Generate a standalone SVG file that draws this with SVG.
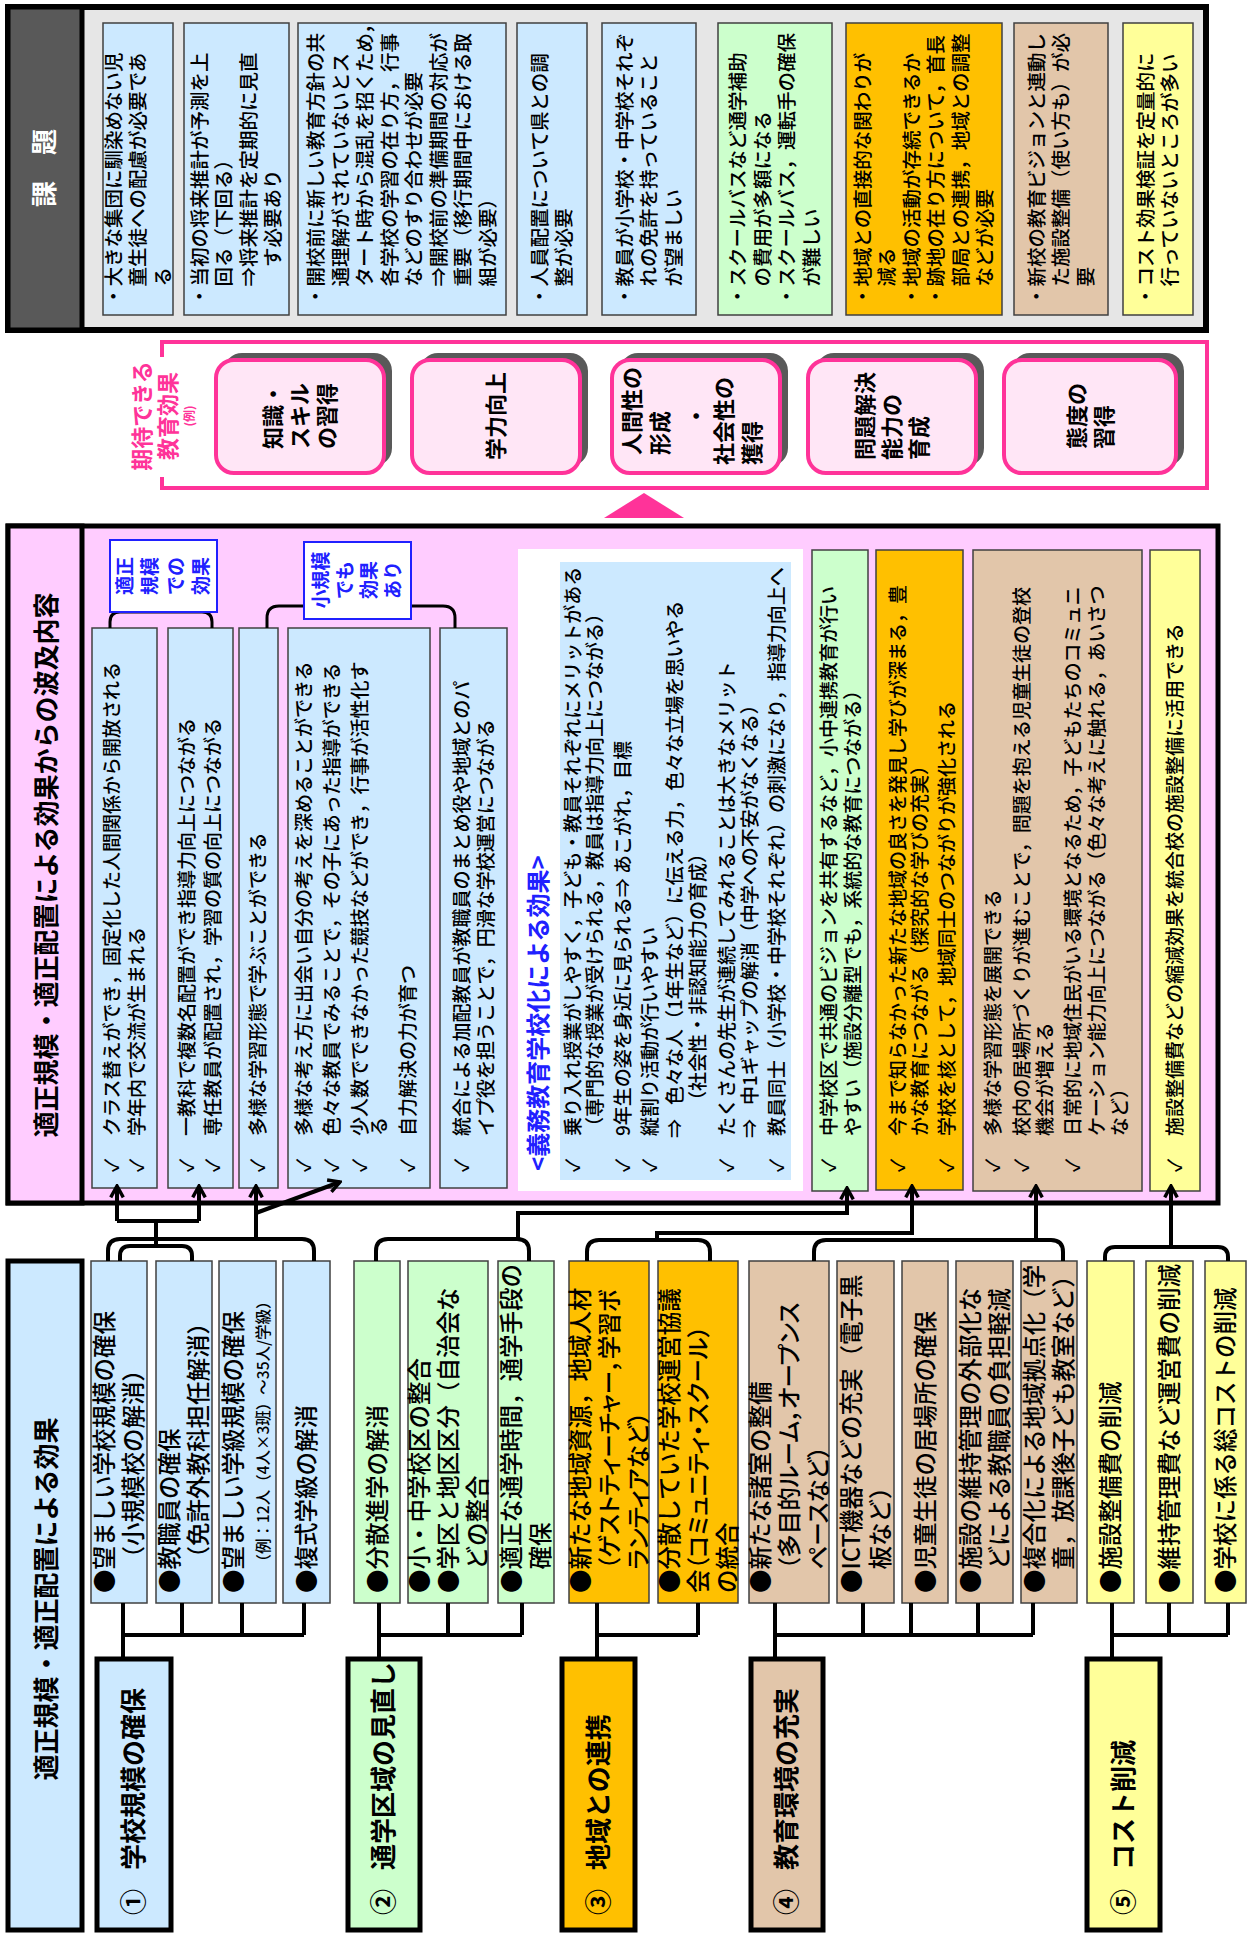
<svg xmlns="http://www.w3.org/2000/svg" width="1248" height="1934" viewBox="0 0 1248 1934">
<defs>
<style>
.t{font-family:"Noto Sans CJK JP","Noto Sans","DejaVu Sans",sans-serif;fill:#000;font-weight:500}
.a{font-size:19.5px}
.h{font-size:19px}
.c{font-size:23.5px}
.g{font-size:26px;font-weight:bold}
.b{font-weight:bold}
.box{stroke:#404040;stroke-width:1.5}
.blue{fill:#cce9ff}.green{fill:#ccffcc}.orange{fill:#ffc000}.tan{fill:#e2c6aa}.yellow{fill:#ffff99}
.grp{stroke:#000;stroke-width:5}
.ln{fill:none;stroke:#000;stroke-width:4}
.ar{marker-end:url(#arr)}
.pk{fill:#ffe6f6;stroke:#ff3399;stroke-width:4}
.sh{fill:#595959}
.bl{fill:#2020ff}
.palt{font-feature-settings:"palt" 1}
</style>
<marker id="arr" viewBox="0 0 14 14" refX="12" refY="7" markerWidth="16" markerHeight="16" markerUnits="userSpaceOnUse" orient="auto"><path d="M2,1.5 L12,7 L2,12.5" fill="none" stroke="#000" stroke-width="3"/></marker>
</defs>
<rect width="1248" height="1934" fill="#fff"/>

<!-- 課題 section -->
<g id="kadai">
<rect x="8" y="7" width="1198" height="323" fill="#e6e6e6" stroke="#000" stroke-width="6"/>
<rect x="8" y="7" width="74" height="323" fill="#595959" stroke="#000" stroke-width="5"/>
<text class="t g" style="fill:#fff" text-anchor="middle" transform="translate(54.4,168) rotate(-90)">課　題</text>
</g>
<g id="kadai1"><rect class="box blue" x="103" y="23" width="70" height="292"/>
<text class="t a" transform="translate(120.5,306) rotate(-90)"><tspan x="0" y="0">・大きな集団に馴染めない児</tspan><tspan x="19.5" y="24.5">童生徒への配慮が必要であ</tspan><tspan x="19.5" y="49">る</tspan></text></g>
<g id="kadai2"><rect class="box blue" x="184" y="23" width="105" height="292"/>
<text class="t a" transform="translate(206.75,306) rotate(-90)"><tspan x="0" y="0">・当初の将来推計が予測を上</tspan><tspan x="19.5" y="24.5">回る（下回る）</tspan><tspan x="19.5" y="49">⇒</tspan><tspan x="39" y="49">将来推計を定期的に見直</tspan><tspan x="39" y="73.5">す必要あり</tspan></text></g>
<g id="kadai3"><rect class="box blue" x="298" y="23" width="208" height="292"/>
<text class="t a" transform="translate(323.25,306) rotate(-90)"><tspan x="0" y="0">・開校前に新しい教育方針の共</tspan><tspan x="19.5" y="24.5">通理解がされていないとス</tspan><tspan x="19.5" y="49">タート時から混乱を招くため，</tspan><tspan x="19.5" y="73.5">各学校の学習の在り方，行事</tspan><tspan x="19.5" y="98">などのすり合わせが必要</tspan><tspan x="19.5" y="122.5">⇒</tspan><tspan x="39" y="122.5">開校前の準備期間の対応が</tspan><tspan x="19.5" y="147">重要（移行期間中における取</tspan><tspan x="19.5" y="171.5">組が必要）</tspan></text></g>
<g id="kadai4"><rect class="box blue" x="517" y="23" width="70" height="292"/>
<text class="t a" transform="translate(546.75,306) rotate(-90)"><tspan x="0" y="0">・人員配置について県との調</tspan><tspan x="19.5" y="24.5">整が必要</tspan></text></g>
<g id="kadai5"><rect class="box blue" x="602" y="23" width="94" height="292"/>
<text class="t a" transform="translate(631.5,306) rotate(-90)"><tspan x="0" y="0">・教員が小学校・中学校それぞ</tspan><tspan x="19.5" y="24.5">れの免許を持っていること</tspan><tspan x="19.5" y="49">が望ましい</tspan></text></g>
<g id="kadai6"><rect class="box green" x="718" y="23" width="114" height="292"/>
<text class="t a" transform="translate(745.25,306) rotate(-90)"><tspan x="0" y="0">・スクールバスなど通学補助</tspan><tspan x="19.5" y="24.5">の費用が多額になる</tspan><tspan x="0" y="49">・スクールバス，運転手の確保</tspan><tspan x="19.5" y="73.5">が難しい</tspan></text></g>
<g id="kadai7"><rect class="box orange" x="846" y="23" width="156" height="292"/>
<text class="t a" transform="translate(869.75,306) rotate(-90)"><tspan x="0" y="0">・地域との直接的な関わりが</tspan><tspan x="19.5" y="24.5">減る</tspan><tspan x="0" y="49">・地域の活動が存続できるか</tspan><tspan x="0" y="73.5">・跡地の在り方について，首長</tspan><tspan x="19.5" y="98">部局との連携，地域との調整</tspan><tspan x="19.5" y="122.5">などが必要</tspan></text></g>
<g id="kadai8"><rect class="box tan" x="1014" y="23" width="94" height="292"/>
<text class="t a" transform="translate(1043.5,306) rotate(-90)"><tspan x="0" y="0">・新校の教育ビジョンと連動し</tspan><tspan x="19.5" y="24.5">た施設整備（使い方も）が必</tspan><tspan x="19.5" y="49">要</tspan></text></g>
<g id="kadai9"><rect class="box yellow" x="1123" y="23" width="70" height="292"/>
<text class="t a" transform="translate(1152.75,306) rotate(-90)"><tspan x="0" y="0">・コスト効果検証を定量的に</tspan><tspan x="19.5" y="24.5">行っていないところが多い</tspan></text></g>

<!-- 期待できる教育効果 -->
<g id="kitai">
<rect x="162" y="342" width="1045" height="146" fill="#fff" stroke="#ff3399" stroke-width="4"/>
<rect x="126" y="357" width="78" height="120" fill="#fff"/>
<text class="t b" style="fill:#ff3399;font-size:22px" text-anchor="middle" transform="translate(150,416) rotate(-90)"><tspan x="0" y="0">期待できる</tspan><tspan x="0" y="26">教育効果</tspan></text>
<text class="t b" style="fill:#ff3399;font-size:12px" text-anchor="middle" transform="translate(194,416) rotate(-90)">(例)</text>
</g>
<g id="eff1"><rect class="sh" x="224" y="353" width="168" height="113" rx="18"/><rect class="pk" x="216" y="360" width="168" height="113" rx="18"/>
<text class="t b" style="font-size:22px" text-anchor="middle" transform="translate(281,416) rotate(-90)"><tspan x="0" y="0">知識・</tspan><tspan x="0" y="27">スキル</tspan><tspan x="0" y="54">の習得</tspan></text></g>
<g id="eff2"><rect class="sh" x="420" y="353" width="168" height="113" rx="18"/><rect class="pk" x="412" y="360" width="168" height="113" rx="18"/>
<text class="t b" style="font-size:22px" text-anchor="middle" transform="translate(504,416) rotate(-90)">学力向上</text></g>
<g id="eff3"><rect class="sh" x="620" y="353" width="168" height="113" rx="18"/><rect class="pk" x="612" y="360" width="168" height="113" rx="18"/>
<text class="t b" style="font-size:22px" transform="translate(640,455) rotate(-90)"><tspan x="0" y="0">人間性の</tspan><tspan x="0" y="28">形成</tspan></text>
<text class="t b" style="font-size:22px" text-anchor="middle" transform="translate(704,416) rotate(-90)">・</text>
<text class="t b" style="font-size:22px" transform="translate(732,465) rotate(-90)"><tspan x="0" y="0">社会性の</tspan><tspan x="0" y="28">獲得</tspan></text></g>
<g id="eff4"><rect class="sh" x="816" y="353" width="168" height="113" rx="18"/><rect class="pk" x="808" y="360" width="168" height="113" rx="18"/>
<text class="t b" style="font-size:22px" transform="translate(873,460) rotate(-90)"><tspan x="0" y="0">問題解決</tspan><tspan x="0" y="27">能力の</tspan><tspan x="0" y="54">育成</tspan></text></g>
<g id="eff5"><rect class="sh" x="1012" y="353" width="172" height="113" rx="18"/><rect class="pk" x="1004" y="360" width="172" height="113" rx="18"/>
<text class="t b" style="font-size:22px" transform="translate(1084.5,449) rotate(-90)"><tspan x="0" y="0">態度の</tspan><tspan x="0" y="27">習得</tspan></text></g>
<polygon id="tri" points="604,518 684,518 644,493" fill="#ff3399"/>

<!-- 波及内容 section -->
<g id="hakyu">
<rect x="8" y="526" width="1210" height="677" fill="#ffccff" stroke="#000" stroke-width="5"/>
<rect x="8" y="526" width="74" height="677" fill="#ffccff" stroke="#000" stroke-width="5"/>
<text class="t g" text-anchor="middle" transform="translate(56.4,865) rotate(-90)">適正規模・適正配置による効果からの波及内容</text>
</g>
<g id="hA"><rect class="box blue" x="92" y="628" width="65" height="560"/>
<text class="t h" transform="translate(119,1172) rotate(-90)"><tspan x="0" y="0">✓</tspan><tspan x="36" y="0">クラス替えができ，固定化した人間関係から開放される</tspan><tspan x="0" y="25">✓</tspan><tspan x="36" y="25">学年内で交流が生まれる</tspan></text></g>
<g id="hB"><rect class="box blue" x="168" y="628" width="65" height="560"/>
<text class="t h" transform="translate(194,1172) rotate(-90)"><tspan x="0" y="0">✓</tspan><tspan x="36" y="0">一教科で複数名配置ができ指導力向上につながる</tspan><tspan x="0" y="26">✓</tspan><tspan x="36" y="26">専任教員が配置され，学習の質の向上につながる</tspan></text></g>
<g id="hC"><rect class="box blue" x="239" y="628" width="39" height="560"/>
<text class="t h" transform="translate(265,1172) rotate(-90)"><tspan x="0" y="0">✓</tspan><tspan x="36" y="0">多様な学習形態で学ぶことができる</tspan></text></g>
<g id="hD"><rect class="box blue" x="288" y="628" width="142" height="560"/>
<text class="t h" transform="translate(311,1172) rotate(-90)"><tspan x="0" y="0">✓</tspan><tspan x="36" y="0">多様な考え方に出会い自分の考えを深めることができる</tspan><tspan x="0" y="28">✓</tspan><tspan x="36" y="28">色々な教員でみることで，その子にあった指導ができる</tspan><tspan x="0" y="56">✓</tspan><tspan x="36" y="56">少人数でできなかった競技などができ，行事が活性化す</tspan><tspan x="36" y="75">る</tspan><tspan x="0" y="104">✓</tspan><tspan x="36" y="104">自力解決の力が育つ</tspan></text></g>
<g id="hE"><rect class="box blue" x="440" y="628" width="67" height="560"/>
<text class="t h" transform="translate(469,1172) rotate(-90)"><tspan x="0" y="0">✓</tspan><tspan x="36" y="0">統合による加配教員が教職員のまとめ役や地域とのパ</tspan><tspan x="36" y="24">イプ役を担うことで，円滑な学校運営につながる</tspan></text></g>
<g id="hGimu"><rect x="518" y="549" width="285" height="642" fill="#fff"/>
<rect x="560" y="562" width="231" height="618" fill="#cce9ff"/>
<text class="t b bl" style="font-size:24px" transform="translate(546.7,1171) rotate(-90)">&lt;義務教育学校化による効果&gt;</text>
<text class="t h" transform="translate(580,1172) rotate(-90)"><tspan x="0" y="0">✓</tspan><tspan x="36" y="0">乗り入れ授業がしやすく，子ども・教員それぞれにメリットがある</tspan><tspan x="36" y="22">（専門的な授業が受けられる，教員は指導力向上につながる）</tspan><tspan x="0" y="50">✓</tspan><tspan x="36" y="50">9年生の姿を身近に見られる⇒ あこがれ，目標</tspan><tspan x="0" y="77">✓</tspan><tspan x="36" y="77">縦割り活動が行いやすい</tspan><tspan x="34" y="102">⇒</tspan><tspan x="67" y="102">色々な人（1年生など）に伝える力，色々な立場を思いやる</tspan><tspan x="62" y="125">（社会性・非認知能力の育成）</tspan><tspan x="0" y="154">✓</tspan><tspan x="36" y="154">たくさんの先生が連続してみれることは大きなメリット</tspan><tspan x="34" y="177">⇒</tspan><tspan x="67" y="177">中1ギャップの解消（中学への不安がなくなる）</tspan><tspan x="0" y="204">✓</tspan><tspan x="36" y="204">教員同士（小学校・中学校それぞれ）の刺激になり，指導力向上へ</tspan></text></g>
<g id="hGreen"><rect class="box green" x="812" y="550" width="56" height="641"/>
<text class="t h" transform="translate(836,1172) rotate(-90)"><tspan x="0" y="0">✓</tspan><tspan x="36" y="0">中学校区で共通のビジョンを共有するなど，小中連携教育が行い</tspan><tspan x="36" y="24">やすい（施設分離型でも，系統的な教育につながる）</tspan></text></g>
<g id="hOrange"><rect class="box orange" x="876" y="550" width="87" height="640"/>
<text class="t h" transform="translate(905,1172) rotate(-90)"><tspan x="0" y="0">✓</tspan><tspan x="36" y="0">今まで知らなかった新たな地域の良さを発見し学びが深まる，豊</tspan><tspan x="36" y="22">かな教育につながる（探究的な学びの充実）</tspan><tspan x="0" y="49">✓</tspan><tspan x="36" y="49">学校を核として，地域同士のつながりが強化される</tspan></text></g>
<g id="hTan"><rect class="box tan" x="973" y="550" width="169" height="641"/>
<text class="t h" transform="translate(1000,1172) rotate(-90)"><tspan x="0" y="0">✓</tspan><tspan x="36" y="0">多様な学習形態を展開できる</tspan><tspan x="0" y="29">✓</tspan><tspan x="36" y="29">校内の居場所づくりが進むことで，問題を抱える児童生徒の登校</tspan><tspan x="36" y="52">機会が増える</tspan><tspan x="0" y="80">✓</tspan><tspan x="36" y="80">日常的に地域住民がいる環境となるため，子どもたちのコミュニ</tspan><tspan x="36" y="104">ケーション能力向上につながる（色々な考えに触れる，あいさつ</tspan><tspan x="36" y="127">など）</tspan></text></g>
<g id="hYellow"><rect class="box yellow" x="1150" y="550" width="50" height="641"/>
<text class="t h" transform="translate(1182,1172) rotate(-90)"><tspan x="0" y="0">✓</tspan><tspan x="36" y="0">施設整備費などの縮減効果を統合校の施設整備に活用できる</tspan></text></g>

<!-- bottom section -->
<g id="kouka">
<rect x="8" y="1261" width="74" height="669" fill="#cce9ff" stroke="#000" stroke-width="5"/>
<text class="t g" text-anchor="middle" transform="translate(56.4,1599) rotate(-90)">適正規模・適正配置による効果</text>
</g>
<g id="b1"><rect class="box blue" x="91" y="1261" width="56" height="342"/>
<text class="t c" transform="translate(113,1593) rotate(-90)"><tspan x="0" y="0">●望ましい学校規模の確保</tspan><tspan x="23.5" y="29">（小規模校の解消）</tspan></text></g>
<g id="b2"><rect class="box blue" x="156" y="1261" width="56" height="342"/>
<text class="t c" transform="translate(178,1593) rotate(-90)"><tspan x="0" y="0">●教職員の確保</tspan><tspan x="23.5" y="29">（免許外教科担任解消）</tspan></text></g>
<g id="b3"><rect class="box blue" x="219" y="1261" width="57" height="342"/>
<text class="t c" transform="translate(241.5,1593) rotate(-90)">●望ましい学級規模の確保</text>
<text class="t" style="font-size:15.5px" transform="translate(268.6,1569.5) rotate(-90)">（例：12人（4人×3班）～35人/学級）</text></g>
<g id="b4"><rect class="box blue" x="283" y="1261" width="47" height="342"/>
<text class="t c" transform="translate(315,1593) rotate(-90)">●複式学級の解消</text></g>
<g id="g1"><rect class="box green" x="354" y="1261" width="46" height="342"/>
<text class="t c" transform="translate(385.5,1593) rotate(-90)">●分散進学の解消</text></g>
<g id="g2"><rect class="box green" x="408" y="1261" width="80" height="342"/>
<text class="t c" transform="translate(427.5,1593) rotate(-90)"><tspan x="0" y="0">●小・中学校区の整合</tspan><tspan x="0" y="29">●学区と地区区分（自治会な</tspan><tspan x="23.5" y="58">どの整合</tspan></text></g>
<g id="g3"><rect class="box green" x="498" y="1261" width="56" height="342"/>
<text class="t c" transform="translate(520,1593) rotate(-90)"><tspan x="0" y="0">●適正な通学時間，通学手段の</tspan><tspan x="23.5" y="29">確保</tspan></text></g>
<g id="o1"><rect class="box orange" x="569" y="1261" width="80" height="342"/>
<text class="t c" transform="translate(588.5,1593) rotate(-90)"><tspan x="0" y="0">●新たな地域資源，地域人材</tspan><tspan class="palt" x="23.5" y="29">（ゲストティーチャー，学習ボ</tspan><tspan class="palt" x="23.5" y="58">ランティアなど）</tspan></text></g>
<g id="o2"><rect class="box orange" x="658" y="1261" width="80" height="342"/>
<text class="t c" transform="translate(677.5,1593) rotate(-90)"><tspan x="0" y="0">●分散していた学校運営協議</tspan><tspan class="palt" x="0" y="29">会（コミュニティ・スクール）</tspan><tspan x="0" y="58">の統合</tspan></text></g>
<g id="t1"><rect class="box tan" x="749" y="1261" width="80" height="342"/>
<text class="t c" transform="translate(768.5,1593) rotate(-90)"><tspan x="0" y="0">●新たな諸室の整備</tspan><tspan class="palt" x="23.5" y="29">（多目的ルーム，オープンス</tspan><tspan class="palt" x="23.5" y="58">ペースなど）</tspan></text></g>
<g id="t2"><rect class="box tan" x="837" y="1261" width="57" height="342"/>
<text class="t c" transform="translate(859.5,1593) rotate(-90)"><tspan x="0" y="0">●ICT機器などの充実（電子黒</tspan><tspan x="23.5" y="29">板など）</tspan></text></g>
<g id="t3"><rect class="box tan" x="902" y="1261" width="46" height="342"/>
<text class="t c" transform="translate(933.5,1593) rotate(-90)">●児童生徒の居場所の確保</text></g>
<g id="t4"><rect class="box tan" x="956" y="1261" width="57" height="342"/>
<text class="t c" transform="translate(978.5,1593) rotate(-90)"><tspan x="0" y="0">●施設の維持管理の外部化な</tspan><tspan x="23.5" y="29">どによる教職員の負担軽減</tspan></text></g>
<g id="t5"><rect class="box tan" x="1021" y="1261" width="56" height="342"/>
<text class="t c" transform="translate(1043,1593) rotate(-90)"><tspan x="0" y="0">●複合化による地域拠点化（学</tspan><tspan x="23.5" y="29">童，放課後子ども教室など）</tspan></text></g>
<g id="y1"><rect class="box yellow" x="1087" y="1261" width="47" height="342"/>
<text class="t c" transform="translate(1119,1593) rotate(-90)">●施設整備費の削減</text></g>
<g id="y2"><rect class="box yellow" x="1146" y="1261" width="47" height="342"/>
<text class="t c" transform="translate(1178,1593) rotate(-90)">●維持管理費など運営費の削減</text></g>
<g id="y3"><rect class="box yellow" x="1205" y="1261" width="41" height="342"/>
<text class="t c" transform="translate(1234,1593) rotate(-90)">●学校に係る総コストの削減</text></g>

<g id="grp1"><rect class="grp blue" x="97" y="1659" width="74" height="271"/>
<text class="t g" transform="translate(143.4,1915) rotate(-90)"><tspan x="0" y="0">①</tspan><tspan x="45" y="0">学校規模の確保</tspan></text></g>
<g id="grp2"><rect class="grp green" x="348" y="1659" width="72" height="271"/>
<text class="t g" transform="translate(393.4,1915) rotate(-90)"><tspan x="0" y="0">②</tspan><tspan x="45" y="0">通学区域の見直し</tspan></text></g>
<g id="grp3"><rect class="grp orange" x="562" y="1659" width="73" height="271"/>
<text class="t g" transform="translate(607.9,1915) rotate(-90)"><tspan x="0" y="0">③</tspan><tspan x="45" y="0">地域との連携</tspan></text></g>
<g id="grp4"><rect class="grp tan" x="751" y="1659" width="72" height="271"/>
<text class="t g" transform="translate(796.4,1915) rotate(-90)"><tspan x="0" y="0">④</tspan><tspan x="45" y="0">教育環境の充実</tspan></text></g>
<g id="grp5"><rect class="grp yellow" x="1087" y="1659" width="73" height="271"/>
<text class="t g" transform="translate(1132.9,1915) rotate(-90)"><tspan x="0" y="0">⑤</tspan><tspan x="45" y="0">コスト削減</tspan></text></g>

<!-- connectors -->
<g id="connectors">
<path class="ln" d="M123,1603V1659M123,1635H304M182,1603V1635M242,1603V1635M304,1603V1635"/>
<path class="ln" d="M379,1603V1659M379,1635H522M448,1603V1635M522,1603V1635"/>
<path class="ln" d="M597,1603V1659M597,1635H698M698,1603V1635"/>
<path class="ln" d="M775,1603V1659M775,1635H1033M863,1603V1635M911,1603V1635M978,1603V1635M1033,1603V1635"/>
<path class="ln" d="M1112,1603V1659M1112,1635H1228M1169,1603V1635M1228,1603V1635"/>
<path class="ln" d="M108,1261V1251Q108,1239 120,1239H302Q314,1239 314,1251V1261"/>
<path class="ln" d="M120,1261V1256Q120,1246 130,1246H182Q192,1246 192,1256V1261"/>
<path class="ln" d="M156,1246V1221M117,1221H199"/>
<path class="ln ar" d="M117,1221V1186"/>
<path class="ln ar" d="M199,1221V1186"/>
<path class="ln ar" d="M256,1239V1186"/>
<path class="ln ar" d="M256,1213L340,1182"/>
<path class="ln" d="M376,1261V1251Q376,1239 388,1239H517Q529,1239 529,1251V1261"/>
<path class="ln ar" d="M518,1239V1213H847V1188"/>
<path class="ln" d="M587,1261V1252Q587,1240 599,1240H698Q710,1240 710,1252V1261"/>
<path class="ln ar" d="M657,1240V1233H912V1186"/>
<path class="ln" d="M814,1261V1252Q814,1240 826,1240H1051Q1063,1240 1063,1252V1261"/>
<path class="ln ar" d="M1036,1240V1186"/>
<path class="ln" d="M1105,1261V1257Q1105,1247 1115,1247H1218Q1228,1247 1228,1257V1261"/>
<path class="ln ar" d="M1171,1247V1186"/>
<path fill="none" stroke="#000" stroke-width="3" d="M110,628V622Q110,612 120,612H202Q212,612 212,622V628"/>
<path fill="none" stroke="#000" stroke-width="3" d="M267,628V618Q267,606 279,606H443Q455,606 455,618V628"/>
</g>

<!-- callouts -->
<g id="callout1"><rect x="110" y="540" width="107" height="72" fill="#fff" stroke="#2020ff" stroke-width="2"/>
<text class="t b bl" style="font-size:19px" text-anchor="middle" transform="translate(131.8,576) rotate(-90)"><tspan x="0" y="0">適正</tspan><tspan x="0" y="25.5">規模</tspan><tspan x="0" y="51">での</tspan><tspan x="0" y="76.5">効果</tspan></text></g>
<g id="callout2"><rect x="304" y="542" width="107" height="77" fill="#fff" stroke="#2020ff" stroke-width="2"/>
<text class="t b bl" style="font-size:19px" text-anchor="middle" transform="translate(328.3,580) rotate(-90)"><tspan x="0" y="0">小規模</tspan><tspan x="0" y="24">でも</tspan><tspan x="0" y="48">効果</tspan><tspan x="0" y="72">あり</tspan></text></g>
</svg>
